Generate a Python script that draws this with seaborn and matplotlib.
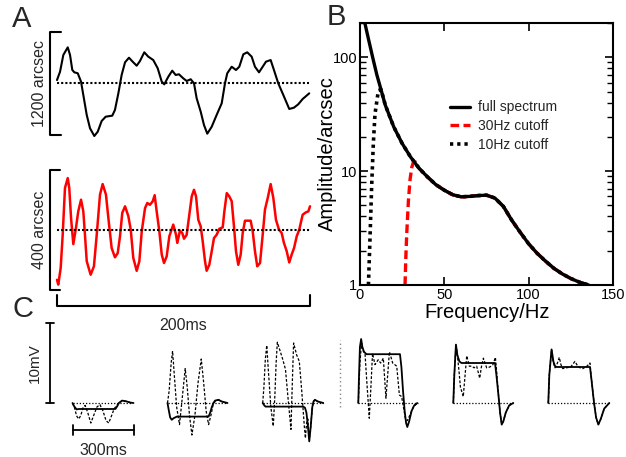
import numpy as np
import pandas as pd
import seaborn as sns
import matplotlib.pyplot as plt
from matplotlib.ticker import FixedLocator, NullFormatter, LogLocator

W, H = 626, 457

# ---- Panel A: eye position traces (time in ms, position in arcsec, relative to mean) ----
a1_t = [0, 2.4, 5.0, 8.5, 10.3, 12.1, 13.7, 16.4, 19.0, 20.8, 23.5, 26.1, 29.5, 32.2, 35.3, 38.5,
        43.7, 45.8, 48.5, 51.1, 53.8, 56.9, 59.8, 63.0, 65.6, 69.0, 72.2, 76.1, 79.6, 82.8, 84.8,
        88.0, 91.1, 93.8, 96.4, 99.8, 102.5, 105.7, 108.3, 110.4, 113.6, 116.2, 118.8, 122.3,
        126.2, 130.2, 132.8, 134.6, 138.1, 141.5, 144.1, 147.3, 150.4, 153.9, 156.5, 159.7,
        162.6, 165.2, 168.9, 171.5, 174.9, 178.9, 183.6, 187.3, 190.7, 194.2, 199.4]
a1_v = [38, 135, 330, 419, 330, 155, 128, 117, 19, -136, -369, -524, -614, -564, -439, -389,
        -377, -311, -117, 97, 245, 298, 252, 205, 260, 361, 310, 271, 175, 19, -12,
        77, 147, 97, 105, 58, 27, 47, 0, -175, -331, -486, -587, -506,
        -369, -233, 0, 117, 193, 155, 193, 338, 361, 310, 193, 128,
        193, 252, 271, 155, 0, -136, -299, -284, -245, -183, -117]

a2_t = [0, 1.0, 2.9, 4.5, 6.3, 8.5, 9.7, 11.1, 12.9, 15.0,
        16.8, 19.0, 20.8, 22.1, 23.5, 26.6, 29.2, 31.4, 34.0, 36.1,
        38.7, 40.6, 43.2, 45.8, 48.0, 49.8, 51.6, 53.8, 56.4, 58.3,
        60.3, 63.0, 65.1, 67.0, 69.6, 71.4, 73.5, 75.7, 77.2, 78.8,
        80.9, 82.8, 84.6, 86.7, 88.8, 91.9, 94.1, 95.1, 97.2, 99.0,
        100.4, 102.5, 104.6, 106.5, 108.3, 109.9, 111.7, 113.6, 115.2, 117.0,
        118.3, 120.4, 122.3, 124.1, 126.2, 128.3, 131.0, 132.3, 134.2, 136.2,
        138.1, 139.9, 141.5, 143.3, 145.2, 146.8, 148.6, 151.2, 153.1, 154.7,
        156.5, 158.3, 160.5, 162.6, 164.4, 166.6, 168.9, 171.0, 173.1, 175.5,
        177.6, 179.4, 181.6, 183.6, 185.5, 187.4, 189.5, 191.5, 194.2, 196.8,
        198.7, 200.0]
a2_v = [-167, -183, -128, -17, 139, 172, 139, 39, -48, 6,
        61, 100, 61, -17, -105, -150, -122, -17, 117, 152,
        117, 39, -61, -92, -78, -22, 56, 78, 45, 0,
        -94, -137, -105, -5, 72, 89, 83, 95, 115, 61,
        -5, -83, -111, -89, -22, 17, -17, -44, -3, -11,
        -30, -17, 50, 111, 133, 111, 33, 11, -39, -105,
        -137, -117, -72, -28, -17, 3, 8, 61, 122, 111,
        95, 11, -72, -117, -83, -11, 30, 30, 30, -5,
        -72, -122, -111, -17, 67, 106, 152, 106, 33, 0,
        -11, -44, -72, -109, -83, -61, -22, 0, 50, 58,
        61, 78]

scale_a1 = 1200   # arcsec
scale_a2 = 400    # arcsec
scale_a_ms = 200  # ms

# ---- Panel B: amplitude spectra ----
freq_full = [3, 5, 7.5, 10, 12, 15, 20, 25, 30, 35, 40, 45, 50, 55, 60, 65, 70, 75, 80, 85,
             90, 95, 100, 105, 110, 115, 120, 125, 130, 135.5]
amp_full = [196, 145, 100, 70, 55, 38, 24.5, 17.5, 13.3, 10.6, 8.9, 7.6, 6.8, 6.2, 5.95, 6.0,
            6.1, 6.15, 5.8, 4.9, 3.7, 2.9, 2.3, 1.9, 1.62, 1.4, 1.25, 1.14, 1.06, 1.0]
freq_30 = [26.7, 27.2, 27.7, 28.7, 29.7, 30.7, 31.7, 33, 35, 40, 45, 50, 55, 60, 65, 70, 75,
           80, 85, 90, 95, 100, 105, 110, 115, 120, 125, 130, 135.5]
amp_30 = [1.0, 1.8, 2.8, 5.5, 8.5, 10.8, 12.0, 12.0, 10.6, 8.9, 7.6, 6.8, 6.2, 5.95, 6.0, 6.1,
          6.15, 5.8, 4.9, 3.7, 2.9, 2.3, 1.9, 1.62, 1.4, 1.25, 1.14, 1.06, 1.0]
freq_10 = [5, 5.9, 6.9, 7.9, 8.9, 10.9, 12.5, 15, 20, 25, 30, 35, 40, 45, 50, 55, 60, 65, 70,
           75, 80, 85, 90, 95, 100, 105, 110, 115, 120, 125, 130, 135.5]
amp_10 = [1.0, 2.5, 7.3, 17.4, 31.9, 51, 52, 38, 24.5, 17.5, 13.3, 10.6, 8.9, 7.6, 6.8, 6.2,
          5.95, 6.0, 6.1, 6.15, 5.8, 4.9, 3.7, 2.9, 2.3, 1.9, 1.62, 1.4, 1.25, 1.14, 1.06, 1.0]
legend_labels = ['full spectrum', '30Hz cutoff', '10Hz cutoff']

# ---- Panel C: responses (ms, mV), solid and dashed per stimulus ----
c_solid_t = [
    [0, 8, 20, 30, 60, 120, 211, 220, 228, 244, 265, 285, 300],
    [0, 7, 13, 21, 30, 46, 202, 210, 218, 226, 234, 251, 265, 295],
    [0, 8, 14, 25, 200, 208, 215, 222, 229, 236, 244, 250, 257, 270, 298],
    [0, 3, 8, 14, 20, 28, 40, 205, 212, 220, 228, 235, 241, 250, 262, 275, 290],
    [0, 5, 13, 20, 30, 40, 205, 212, 222, 230, 238, 246, 258, 275, 295],
    [0, 5, 16, 25, 33, 41, 205, 212, 225, 235, 246, 258, 275, 300],
]
c_solid_v = [
    [0, -0.4, -0.8, -0.75, -0.75, -0.75, -0.75, -0.4, 0.0, 0.3, 0.2, 0.05, 0],
    [0, -1.0, -1.8, -2.1, -1.9, -1.7, -1.7, -1.2, -0.5, 0.0, 0.3, 0.4, 0.2, 0],
    [0, -0.3, -0.45, -0.45, -0.45, -0.6, -1.2, -2.8, -4.8, -3.0, -0.5, 0.2, 0.4, 0.2, 0],
    [0, 3, 7, 8.0, 7.0, 6.4, 6.1, 6.1, 4.5, 1.5, -1.0, -2.5, -3.0, -2.3, -1.0, -0.3, 0],
    [0, 3.5, 7.3, 6.0, 5.2, 5.0, 5.0, 3.5, 1.0, -1.2, -2.7, -2.3, -1.2, -0.3, 0],
    [0, 3.5, 6.7, 5.2, 4.6, 4.5, 4.5, 3.0, 0.0, -1.8, -2.7, -2.0, -0.7, 0],
]
c_dash_t = [
    [0, 10, 20, 30, 40, 52, 62, 75, 90, 105, 120, 135, 150, 165, 178, 192, 205, 215, 228, 245, 265, 290],
    [0, 8, 18, 25, 32, 45, 59, 72, 87, 97, 108, 120, 135, 150, 166, 178, 190, 202, 214, 226, 240, 251, 265, 295],
    [0, 6, 13, 20, 28, 40, 52, 60, 66, 72, 82, 98, 112, 125, 139, 145, 152, 167, 180, 192, 205, 210,
     216, 222, 229, 236, 244, 250, 257, 270, 298],
    [0, 8, 16, 24, 33, 41, 54, 62, 70, 82, 98, 110, 123, 136, 153, 169, 189, 202, 213, 222, 232, 241,
     254, 271, 290],
    [0, 5, 13, 20, 28, 35, 49, 58, 66, 79, 92, 102, 115, 125, 130, 138, 148, 164, 180, 195, 207, 213,
     222, 230, 238, 246, 258, 275, 295],
    [0, 5, 16, 25, 33, 45, 54, 62, 71, 90, 110, 131, 145, 156, 170, 190, 205, 212, 225, 235, 246, 258,
     275, 300],
]
c_dash_v = [
    [0, -0.6, -1.6, -2.0, -1.6, -0.6, -0.3, -1.2, -2.5, -1.5, -0.5, -0.2, -1.0, -2.2, -2.5, -1.6, -0.7,
     -0.4, 0.0, 0.3, 0.2, 0.0],
    [0, 1.5, 5.0, 6.5, 4.0, -0.5, -2.7, 0.5, 4.3, 2.0, -1.5, -4.0, -1.5, 2.5, 5.5, 2.5, -1.0, -2.7,
     -1.5, 0.0, 0.3, 0.4, 0.2, 0],
    [0, 2.0, 5.5, 7.2, 4.0, -0.5, -2.9, 1.0, 5.0, 7.6, 6.8, 5.5, 4.2, 0.5, -3.3, 2.0, 7.5, 6.0, 5.2,
     1.5, -3.0, -4.4, -2.5, -2.0, -4.5, -3.0, -0.5, 0.2, 0.4, 0.2, 0],
    [0, 5, 7.5, 6.5, 6.2, 3, -1.9, 2, 6.2, 4.8, 5.4, 5.0, 5.6, 0.6, 6.4, 5.0, 4.6, 1.0, 0.8, -0.5,
     -2.0, -2.2, -1.5, -0.5, 0],
    [0, 3.5, 7.3, 6.0, 4.0, 2.0, 0.8, 3.5, 5.9, 4.6, 4.6, 4.4, 4.6, 3.6, 3.1, 4.5, 5.6, 4.4, 4.5,
     4.8, 5.7, 4.0, 1.0, -1.2, -2.6, -2.3, -1.2, -0.3, 0],
    [0, 3.5, 6.7, 5.0, 4.4, 5.0, 5.7, 4.8, 4.3, 4.4, 4.5, 5.2, 4.6, 4.4, 4.3, 4.6, 5.0, 3.0, 0.0,
     -1.8, -2.7, -2.0, -0.7, 0],
]
c_span = [0, 295]     # ms, dotted baseline extent
scale_c_mv = 10
scale_c_ms = 300

sns.set_theme(style='white')
plt.rcParams['font.family'] = ['Liberation Sans', 'DejaVu Sans']

fig = plt.figure(figsize=(W / 100, H / 100), dpi=100)


def box(x0, y0, x1, y1):
    return [x0 / W, 1 - y1 / H, (x1 - x0) / W, (y1 - y0) / H]


def trace(ax, x, y, **kw):
    sns.lineplot(x=x, y=y, ax=ax, estimator=None, sort=False, **kw)


dot = (0, (1, 1))

# ---------------- Panel A ----------------
ms_px = scale_a_ms / 253
t0 = 57
as1 = scale_a1 / 103
base1 = 83.3
axA1 = fig.add_axes(box(30, 25, 318, 145))
axA1.set_xlim((30 - t0) * ms_px, (318 - t0) * ms_px)
axA1.set_ylim((base1 - 145) * as1, (base1 - 25) * as1)
trace(axA1, a1_t, a1_v, color='black', lw=1.5)
axA1.plot([0, 199], [0, 0], color='black', lw=1.5, ls=dot)
xs, xe = (50 - t0) * ms_px, (61 - t0) * ms_px
h1 = scale_a1 / 2
axA1.plot([xe, xs, xs, xe], [-h1, -h1, h1, h1], color='black', lw=1.5, clip_on=False)
axA1.text((40 - t0) * ms_px, 0, f'{scale_a1} arcsec', rotation=90, ha='center', va='center', fontsize=11.5)
axA1.axis('off')

as2 = scale_a2 / 120
base2 = 229.7
axA2 = fig.add_axes(box(30, 160, 318, 340))
axA2.set_xlim((30 - t0) * ms_px, (318 - t0) * ms_px)
axA2.set_ylim((base2 - 340) * as2, (base2 - 160) * as2)
trace(axA2, a2_t, a2_v, color='red', lw=1.8)
axA2.plot([0, 200], [0, 0], color='black', lw=1.5, ls=dot)
xe2 = (60 - t0) * ms_px
h2 = scale_a2 / 2
axA2.plot([xe2, xs, xs, xe2], [-h2, -h2, h2, h2], color='black', lw=1.5, clip_on=False)
axA2.text((39 - t0) * ms_px, 0, f'{scale_a2} arcsec', rotation=90, ha='center', va='center', fontsize=11.5)
yb, ys = (base2 - 306) * as2, (base2 - 295) * as2
axA2.plot([0, 0, scale_a_ms, scale_a_ms], [ys, yb, yb, ys], color='black', lw=1.5, clip_on=False)
axA2.text(scale_a_ms / 2, (base2 - 330) * as2, f'{scale_a_ms}ms', ha='center', va='baseline',
          fontsize=11.5, clip_on=False)
axA2.axis('off')

# ---------------- Panel B ----------------
axB = fig.add_axes(box(360, 23, 613, 285))
trace(axB, freq_10, amp_10, color='black', lw=2.6, ls=(0, (0.9, 1.1)), label=legend_labels[2])
trace(axB, freq_30, amp_30, color='red', lw=2.4, ls=(0, (2.6, 1.3)), label=legend_labels[1])
trace(axB, freq_full, amp_full, color='black', lw=2.4, label=legend_labels[0])
axB.set_yscale('log')
axB.set_xlim(0, 150)
axB.set_ylim(1, 200)
axB.set_xticks([0, 50, 100, 150])
axB.yaxis.set_major_locator(FixedLocator([1, 10, 100]))
axB.set_yticklabels(['1', '10', '100'])
axB.yaxis.set_minor_locator(LogLocator(base=10, subs=np.arange(2, 10)))
axB.yaxis.set_minor_formatter(NullFormatter())
axB.tick_params(which='both', direction='in', top=True, right=True, left=True, bottom=True,
                labelsize=10.5, color='black', labelcolor='black')
axB.tick_params(which='major', length=6, width=1.2)
axB.tick_params(which='minor', length=4, width=1.0)
axB.tick_params(axis='x', pad=2)
axB.tick_params(axis='y', pad=2)
for sp in axB.spines.values():
    sp.set_color('black')
    sp.set_linewidth(1.5)
axB.set_xlabel('Frequency/Hz', fontsize=14.5, color='black')
axB.set_ylabel('Amplitude/arcsec', fontsize=14.5, color='black')
axB.xaxis.set_label_coords(0.502, -0.068)
axB.yaxis.set_label_coords(-0.092, 0.5)
hnd, lab = axB.get_legend_handles_labels()
order = [lab.index(l) for l in legend_labels]
axB.legend([hnd[i] for i in order], [lab[i] for i in order], loc='center left',
           bbox_to_anchor=((450 - 360) / 253, (285 - 126) / 262), frameon=False, fontsize=10,
           handlelength=1.45, handletextpad=0.6, labelspacing=0.33, borderpad=0, borderaxespad=0)
axB.grid(False)

# ---------------- Panel C ----------------
c_ms_px = scale_c_ms / 61
c_mv_px = scale_c_mv / 80
cbase = 403
starts = [72.5, 167.5, 262.7, 358.3, 453.3, 548.3]
xl, xr, yl, yt = -20, 320, -6.5, 10.5
axC = []
for i, s in enumerate(starts):
    ax = fig.add_axes(box(s + xl / c_ms_px, cbase - yt / c_mv_px, s + xr / c_ms_px, cbase - yl / c_mv_px))
    ax.set_xlim(xl, xr)
    ax.set_ylim(yl, yt)
    ax.plot(c_span, [0, 0], color='black', lw=0.9, ls=(0, (1, 1.5)))
    trace(ax, c_dash_t[i], c_dash_v[i], color='black', lw=0.9, ls=(0, (2.2, 1.4)))
    trace(ax, c_solid_t[i], c_solid_v[i], color='black', lw=1.3)
    ax.axis('off')
    axC.append(ax)

ax0 = axC[0]
xb = (49.5 - starts[0]) * c_ms_px
sw = 4 * c_ms_px
ax0.plot([xb, xb], [0, scale_c_mv], color='black', lw=1.3, clip_on=False)
ax0.plot([xb - sw, xb + sw], [0, 0], color='black', lw=1.3, clip_on=False)
ax0.plot([xb - sw, xb + sw], [scale_c_mv, scale_c_mv], color='black', lw=1.3, clip_on=False)
ax0.text((35 - starts[0]) * c_ms_px, scale_c_mv / 2, f'{scale_c_mv}mV', rotation=90,
         ha='center', va='center', fontsize=11, clip_on=False)
yb = (cbase - 429.5) * c_mv_px
sh = 5 * c_mv_px
ax0.plot([0, scale_c_ms], [yb, yb], color='black', lw=1.3, clip_on=False)
ax0.plot([0, 0], [yb - sh, yb + sh], color='black', lw=1.3, clip_on=False)
ax0.plot([scale_c_ms, scale_c_ms], [yb - sh, yb + sh], color='black', lw=1.3, clip_on=False)
ax0.text(scale_c_ms / 2, (cbase - 455) * c_mv_px, f'{scale_c_ms}ms', ha='center', va='baseline',
         fontsize=11.5, clip_on=False)

ax3 = axC[3]
xsep = (340 - starts[3]) * c_ms_px
ax3.plot([xsep, xsep], [(cbase - 407) * c_mv_px, (cbase - 340) * c_mv_px], color='#888888',
         lw=1.0, ls=(0, (1, 2)), clip_on=False)

# panel letters
for letter, (px, py) in {'A': (12, 5), 'B': (327, 3), 'C': (12, 295)}.items():
    fig.text(px / W, 1 - py / H, letter, fontsize=21, ha='left', va='top')

fig.savefig('out.png', dpi=100)
